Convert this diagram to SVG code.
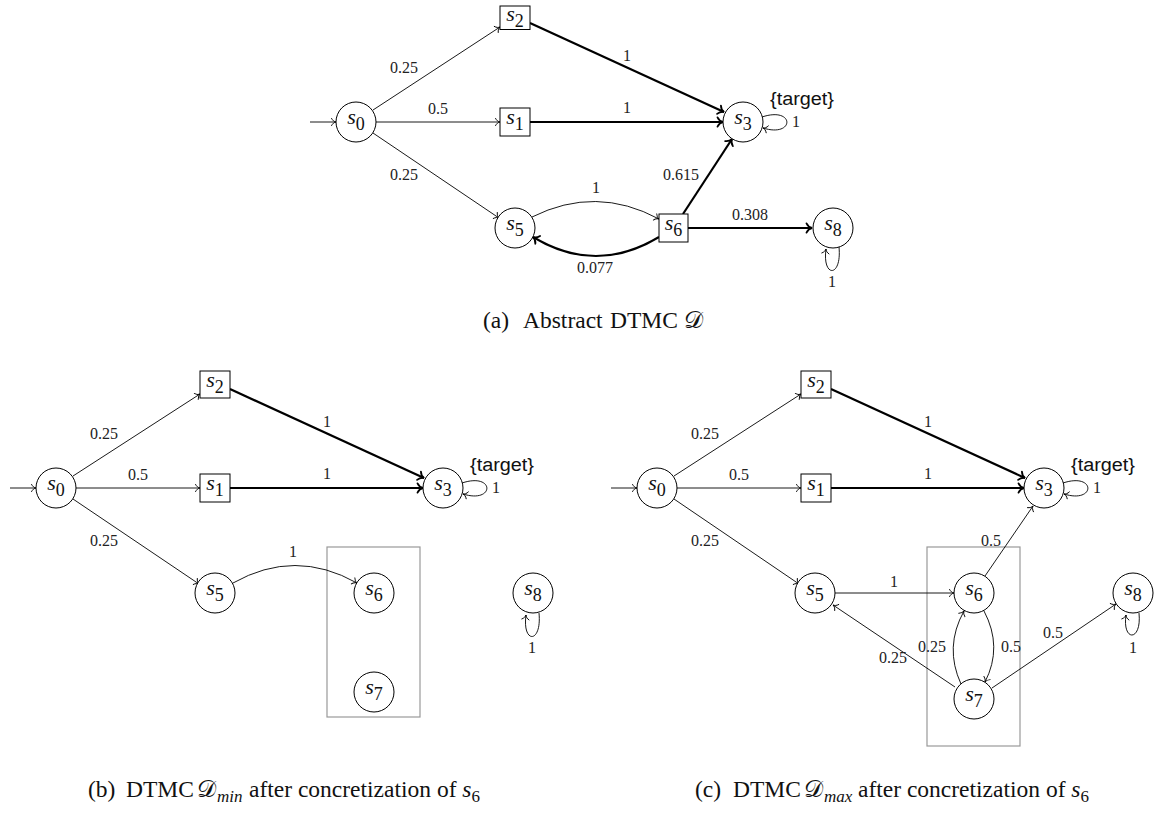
<svg xmlns="http://www.w3.org/2000/svg" width="1162" height="813" viewBox="0 0 1162 813">
  <style>
    .st { fill: #fff; stroke: #000; stroke-width: 1; }
    .nl { font-family: "Liberation Serif", "DejaVu Serif", serif; font-size: 22px; fill: #111; text-anchor: middle; }
    .nl .v { font-style: italic; }
    .nl .i { font-size: 18px; }
    .el { font-family: "Liberation Serif", "DejaVu Serif", serif; font-size: 16px; fill: #222; text-anchor: middle; }
    .tg { font-family: "Liberation Sans", "DejaVu Sans", sans-serif; font-size: 18px; fill: #111; }
    .cap { font-family: "Liberation Serif", "DejaVu Serif", serif; font-size: 23.5px; fill: #111; }
    .cap .v { font-style: italic; }
    .cal { font-family: "DejaVu Serif", "DejaVu Sans", "Noto Sans", serif; font-style: normal; }
    .thin { fill: none; stroke: #000; stroke-width: 0.9; marker-end: url(#tip); }
    .thick { fill: none; stroke: #000; stroke-width: 2.2; marker-end: url(#tipB); }
    .box { fill: none; stroke: #999; stroke-width: 1.2; }
  </style>
  <defs>
    <marker id="tip" viewBox="-7 -6 9 12" markerWidth="9" markerHeight="12" refX="0" refY="0" orient="auto" markerUnits="userSpaceOnUse">
      <path d="M-4.5,-3.6 C-3.3,-1.3 -1.6,-0.3 0,0 C-1.6,0.3 -3.3,1.3 -4.5,3.6" fill="none" stroke="#000" stroke-width="0.9" stroke-linecap="round"/>
    </marker>
    <marker id="tipB" viewBox="-9 -7 11 14" markerWidth="11" markerHeight="14" refX="0" refY="0" orient="auto" markerUnits="userSpaceOnUse">
      <path d="M-5.5,-4.6 C-4,-1.6 -2,-0.4 0,0 C-2,0.4 -4,1.6 -5.5,4.6" fill="none" stroke="#000" stroke-width="1.8" stroke-linecap="round"/>
    </marker>
  </defs>

  <!-- ===================== (a) abstract DTMC ===================== -->
  <g id="edges-a">
    <path class="thin" d="M310,122 L336,122"/>
    <path class="thin" d="M373,110 L500,27"/>
    <path class="thin" d="M376,122 L500,122"/>
    <path class="thin" d="M373,133 L499,218"/>
    <path class="thick" d="M530,23 L724,112"/>
    <path class="thick" d="M530,122 L723,122"/>
    <path class="thin" d="M532,217 Q596,185 659,219"/>
    <path class="thick" d="M659,237 Q596,275 533,237"/>
    <path class="thick" d="M683,214 L732,139"/>
    <path class="thick" d="M688,228 L812,228"/>
    <path class="thin" d="M762,117 C795,106 795,138 763,128"/>
    <path class="thin" d="M839,247 C842,278 822,278 826,249"/>
    <text class="el" x="404" y="73">0.25</text>
    <text class="el" x="438" y="114">0.5</text>
    <text class="el" x="404" y="180">0.25</text>
    <text class="el" x="627" y="61">1</text>
    <text class="el" x="627" y="113">1</text>
    <text class="el" x="596" y="193">1</text>
    <text class="el" x="595" y="273">0.077</text>
    <text class="el" x="681" y="180">0.615</text>
    <text class="el" x="750" y="220">0.308</text>
    <text class="el" x="796" y="127">1</text>
    <text class="el" x="832" y="287">1</text>
  </g>
  <g id="a-s0"><circle class="st" cx="356" cy="122" r="20"/><text class="nl" x="356" y="123.5"><tspan class="v">s</tspan><tspan class="i" dy="6">0</tspan></text></g>
  <g id="a-s2"><rect class="st" x="500" y="6" width="30" height="23.5"/><text class="nl" x="515" y="21"><tspan class="v">s</tspan><tspan class="i" dy="6">2</tspan></text></g>
  <g id="a-s1"><rect class="st" x="500" y="108" width="30" height="28"/><text class="nl" x="515" y="124"><tspan class="v">s</tspan><tspan class="i" dy="6">1</tspan></text></g>
  <g id="a-s3"><circle class="st" cx="743" cy="122" r="20"/><text class="nl" x="743" y="123.5"><tspan class="v">s</tspan><tspan class="i" dy="6">3</tspan></text><text class="tg" x="770" y="105" textLength="64" lengthAdjust="spacingAndGlyphs">{target}</text></g>
  <g id="a-s5"><circle class="st" cx="515" cy="228" r="20"/><text class="nl" x="515" y="229.5"><tspan class="v">s</tspan><tspan class="i" dy="6">5</tspan></text></g>
  <g id="a-s6"><rect class="st" x="659" y="214" width="29" height="28"/><text class="nl" x="673.5" y="230"><tspan class="v">s</tspan><tspan class="i" dy="6">6</tspan></text></g>
  <g id="a-s8"><circle class="st" cx="833" cy="228" r="20"/><text class="nl" x="833" y="229.5"><tspan class="v">s</tspan><tspan class="i" dy="6">8</tspan></text></g>
  <text class="cap" y="327.5"><tspan x="483">(a)</tspan><tspan x="523">Abstract</tspan><tspan x="610">DTMC</tspan><tspan x="684" class="cal">𝒟</tspan></text>

  <!-- ===================== (b) minimal concretization ===================== -->
  <rect id="b-box" class="box" x="327" y="547" width="93" height="170"/>
  <g id="edges-b">
    <path class="thin" d="M10,488 L36,488"/>
    <path class="thin" d="M73,476 L200,394"/>
    <path class="thin" d="M76,488 L200,488"/>
    <path class="thin" d="M73,499 L199,584"/>
    <path class="thick" d="M230,389 L424,478"/>
    <path class="thick" d="M230,488 L423,488"/>
    <path class="thin" d="M233,583 Q295,548 357,583"/>
    <path class="thin" d="M462,483 C495,472 495,504 463,494"/>
    <path class="thin" d="M539,613 C542,644 522,644 526,615"/>
    <text class="el" x="104" y="439">0.25</text>
    <text class="el" x="138" y="480">0.5</text>
    <text class="el" x="104" y="546">0.25</text>
    <text class="el" x="327" y="427">1</text>
    <text class="el" x="327" y="479">1</text>
    <text class="el" x="293" y="557">1</text>
    <text class="el" x="496" y="493">1</text>
    <text class="el" x="532" y="653">1</text>
  </g>
  <g id="b-s0"><circle class="st" cx="56" cy="488" r="20"/><text class="nl" x="56" y="489.5"><tspan class="v">s</tspan><tspan class="i" dy="6">0</tspan></text></g>
  <g id="b-s2"><rect class="st" x="200" y="371" width="30" height="27"/><text class="nl" x="215" y="387"><tspan class="v">s</tspan><tspan class="i" dy="6">2</tspan></text></g>
  <g id="b-s1"><rect class="st" x="200" y="474" width="30" height="28"/><text class="nl" x="215" y="490"><tspan class="v">s</tspan><tspan class="i" dy="6">1</tspan></text></g>
  <g id="b-s3"><circle class="st" cx="443" cy="488" r="20"/><text class="nl" x="443" y="489.5"><tspan class="v">s</tspan><tspan class="i" dy="6">3</tspan></text><text class="tg" x="470" y="471" textLength="64" lengthAdjust="spacingAndGlyphs">{target}</text></g>
  <g id="b-s5"><circle class="st" cx="215" cy="593" r="20"/><text class="nl" x="215" y="594.5"><tspan class="v">s</tspan><tspan class="i" dy="6">5</tspan></text></g>
  <g id="b-s6"><circle class="st" cx="374" cy="593" r="20"/><text class="nl" x="374" y="594.5"><tspan class="v">s</tspan><tspan class="i" dy="6">6</tspan></text></g>
  <g id="b-s7"><circle class="st" cx="374" cy="692" r="20"/><text class="nl" x="374" y="693.5"><tspan class="v">s</tspan><tspan class="i" dy="6">7</tspan></text></g>
  <g id="b-s8"><circle class="st" cx="533" cy="593" r="20"/><text class="nl" x="533" y="594.5"><tspan class="v">s</tspan><tspan class="i" dy="6">8</tspan></text></g>
  <text class="cap" y="797"><tspan x="88">(b)</tspan><tspan x="126">DTMC</tspan><tspan x="197" class="cal">𝒟</tspan><tspan x="217" dy="5" class="v" font-size="17">min</tspan><tspan x="249" dy="-5">after concretization of </tspan><tspan class="v">s</tspan><tspan dy="5" font-size="17">6</tspan></text>

  <!-- ===================== (c) maximal concretization ===================== -->
  <rect id="c-box" class="box" x="927" y="547" width="93" height="199"/>
  <g id="edges-c">
    <path class="thin" d="M611,488 L637,488"/>
    <path class="thin" d="M674,476 L801,394"/>
    <path class="thin" d="M677,488 L801,488"/>
    <path class="thin" d="M674,499 L799,584"/>
    <path class="thick" d="M831,389 L1025,478"/>
    <path class="thick" d="M831,488 L1024,488"/>
    <path class="thin" d="M835,593 L954,593"/>
    <path class="thin" d="M985,576 L1033,506"/>
    <path class="thin" d="M984,611 Q1003,647 985,682"/>
    <path class="thin" d="M961,684 Q944,647 964,611"/>
    <path class="thin" d="M955,687 L833,605"/>
    <path class="thin" d="M992,688 L1116,604"/>
    <path class="thin" d="M1063,483 C1096,472 1096,504 1064,494"/>
    <path class="thin" d="M1139,613 C1142,642 1122,642 1126,615"/>
    <text class="el" x="705" y="439">0.25</text>
    <text class="el" x="739" y="480">0.5</text>
    <text class="el" x="705" y="546">0.25</text>
    <text class="el" x="928" y="427">1</text>
    <text class="el" x="928" y="479">1</text>
    <text class="el" x="894" y="587">1</text>
    <text class="el" x="991" y="546">0.5</text>
    <text class="el" x="1011" y="652">0.5</text>
    <text class="el" x="932" y="652">0.25</text>
    <text class="el" x="893" y="663">0.25</text>
    <text class="el" x="1053" y="638">0.5</text>
    <text class="el" x="1097" y="493">1</text>
    <text class="el" x="1133" y="653">1</text>
  </g>
  <g id="c-s0"><circle class="st" cx="657" cy="488" r="20"/><text class="nl" x="657" y="489.5"><tspan class="v">s</tspan><tspan class="i" dy="6">0</tspan></text></g>
  <g id="c-s2"><rect class="st" x="801" y="371" width="30" height="27"/><text class="nl" x="816" y="387"><tspan class="v">s</tspan><tspan class="i" dy="6">2</tspan></text></g>
  <g id="c-s1"><rect class="st" x="801" y="474" width="30" height="28"/><text class="nl" x="816" y="490"><tspan class="v">s</tspan><tspan class="i" dy="6">1</tspan></text></g>
  <g id="c-s3"><circle class="st" cx="1044" cy="488" r="20"/><text class="nl" x="1044" y="489.5"><tspan class="v">s</tspan><tspan class="i" dy="6">3</tspan></text><text class="tg" x="1071" y="471" textLength="64" lengthAdjust="spacingAndGlyphs">{target}</text></g>
  <g id="c-s5"><circle class="st" cx="815" cy="593" r="20"/><text class="nl" x="815" y="594.5"><tspan class="v">s</tspan><tspan class="i" dy="6">5</tspan></text></g>
  <g id="c-s6"><circle class="st" cx="974" cy="593" r="20"/><text class="nl" x="974" y="594.5"><tspan class="v">s</tspan><tspan class="i" dy="6">6</tspan></text></g>
  <g id="c-s7"><circle class="st" cx="974" cy="699" r="20"/><text class="nl" x="974" y="700.5"><tspan class="v">s</tspan><tspan class="i" dy="6">7</tspan></text></g>
  <g id="c-s8"><circle class="st" cx="1133" cy="593" r="20"/><text class="nl" x="1133" y="594.5"><tspan class="v">s</tspan><tspan class="i" dy="6">8</tspan></text></g>
  <text class="cap" y="797"><tspan x="695">(c)</tspan><tspan x="733">DTMC</tspan><tspan x="804" class="cal">𝒟</tspan><tspan x="824" dy="5" class="v" font-size="17">max</tspan><tspan x="858" dy="-5">after concretization of </tspan><tspan class="v">s</tspan><tspan dy="5" font-size="17">6</tspan></text>
</svg>
